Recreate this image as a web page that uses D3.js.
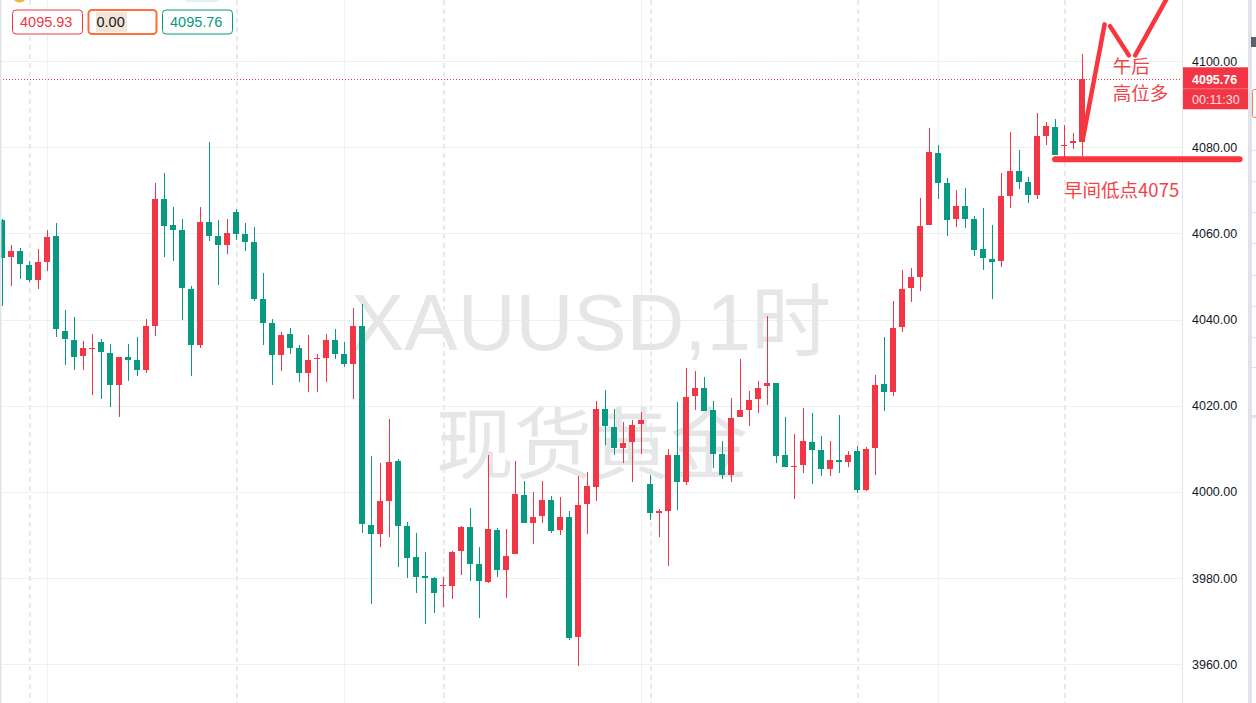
<!DOCTYPE html>
<html><head><meta charset="utf-8">
<script src="https://cdn.jsdelivr.net/npm/d3@7"></script>
<style>html,body{margin:0;padding:0;background:#fff;overflow:hidden}</style>
</head><body>
<svg id="chart" width="1256" height="703"></svg>
<script>
// ---------- data ----------
const barIndex = d3.range(121);
const openVals = [4063.0,4054.5,4056.0,4052.6,4049.1,4053.3,4059.3,4037.4,4035.3,4031.5,
4033.3,4034.9,4032.3,4024.7,4031.4,4030.5,4028.2,4038.4,4067.9,4061.9,
4060.7,4047.0,4034.0,4062.6,4059.3,4057.3,4064.9,4059.8,4058.1,4044.7,
4039.3,4031.7,4036.7,4033.3,4027.5,4030.8,4031.0,4035.3,4031.9,4029.6,
4038.6,3992.3,3990.3,3998.0,4007.2,3992.1,3984.9,3980.5,3980.1,3978.2,
3978.2,3986.3,3991.9,3983.3,3979.1,3991.2,3981.9,3985.7,3999.3,3992.9,
3994.3,3998.1,3991.2,3994.2,3966.3,3997.2,4001.2,4019.3,4015.1,4010.3,
4011.5,4015.7,4001.9,3995.0,3995.6,4008.6,4002.2,4022.2,4024.2,4019.1,
4008.8,4004.0,4017.5,4019.1,4021.5,4024.5,4025.3,4008.6,4006.0,4006.3,
4011.6,4009.8,4005.4,4007.4,4007.0,4009.5,4000.5,4010.1,4025.1,4023.3,
4038.2,4047.3,4049.8,4061.9,4078.6,4071.6,4063.3,4066.3,4063.3,4056.3,
4054.1,4053.6,4068.7,4074.4,4071.9,4068.9,4082.6,4084.7,4080.5,4081.0,
4081.1];
const highVals = [4063.3,4057.4,4056.5,4053.7,4056.3,4060.7,4062.3,4042.3,4040.5,4035.1,
4036.7,4035.6,4034.4,4031.4,4034.4,4036.0,4040.2,4071.6,4074.1,4066.2,
4063.3,4047.9,4066.2,4081.3,4063.0,4063.3,4065.6,4062.3,4061.4,4050.7,
4040.2,4037.0,4038.1,4034.2,4036.5,4031.9,4036.7,4037.9,4034.9,4042.6,
4043.5,4008.4,4006.7,4017.0,4007.7,3993.0,3990.5,3986.0,3980.3,3980.3,
3986.3,3992.1,3996.3,3987.3,4008.6,3991.6,3991.4,4007.2,4002.6,4000.0,
4002.6,3999.1,3998.8,3995.6,4003.7,4004.7,4021.2,4023.7,4019.3,4016.3,
4016.7,4018.6,4004.0,3996.0,4010.0,4020.9,4028.8,4028.1,4026.7,4021.2,
4011.9,4021.9,4030.9,4023.5,4025.8,4040.8,4025.3,4017.4,4013.5,4019.5,
4018.4,4013.0,4011.9,4017.9,4009.5,4010.7,4010.5,4027.2,4035.9,4044.4,
4051.4,4051.9,4068.1,4084.4,4080.5,4072.8,4070.0,4070.5,4064.0,4065.8,
4061.9,4074.0,4083.5,4079.3,4073.0,4087.9,4085.8,4086.5,4085.1,4083.3,
4101.6];
const lowVals = [4043.1,4047.7,4049.5,4048.7,4047.0,4051.2,4035.9,4029.4,4028.2,4028.4,
4022.4,4021.5,4019.8,4017.5,4025.7,4026.8,4027.7,4036.1,4054.5,4053.6,
4040.0,4027.0,4033.3,4058.2,4048.1,4055.3,4058.4,4055.9,4044.3,4034.0,
4024.7,4028.0,4031.9,4025.4,4023.1,4023.1,4025.4,4030.8,4028.9,4021.5,
3990.5,3974.0,3987.3,3989.6,3982.6,3980.1,3976.6,3969.4,3972.0,3973.3,
3975.2,3980.8,3979.4,3970.8,3978.9,3980.3,3975.4,3985.7,3992.9,3988.0,
3992.9,3990.5,3990.1,3965.7,3959.6,3990.3,3998.0,4010.9,4008.6,4006.8,
4002.4,4008.9,3993.6,3989.6,3982.9,3995.9,4001.5,4018.9,4018.7,4005.6,
4003.1,4002.4,4017.5,4015.2,4018.4,4020.1,4006.8,4005.9,3998.4,4004.5,
4001.9,4003.8,4003.6,4004.5,4005.9,3999.8,4000.3,4004.0,4018.7,4022.2,
4037.1,4044.0,4046.6,4061.9,4068.0,4059.4,4061.5,4061.2,4054.7,4051.5,
4044.7,4052.2,4065.9,4070.3,4067.0,4068.0,4080.5,4078.2,4076.8,4079.6,
4078.0];
const closeVals = [4054.2,4055.9,4052.8,4049.1,4053.3,4059.1,4037.7,4035.4,4031.2,4033.3,
4033.5,4032.4,4024.7,4031.4,4030.5,4028.4,4038.4,4067.9,4061.7,4060.8,
4047.3,4034.0,4062.6,4059.4,4057.3,4060.2,4059.8,4058.0,4044.7,4039.2,
4031.7,4036.5,4033.3,4027.5,4030.7,4031.0,4035.3,4031.9,4029.8,4038.6,
3992.6,3990.3,3997.9,4007.0,3992.2,3984.7,3980.3,3980.1,3976.6,3978.5,
3986.0,3991.9,3983.3,3979.4,3991.4,3981.9,3985.1,3999.5,3992.9,3994.2,
3998.1,3991.0,3994.2,3966.1,3997.0,4001.4,4019.3,4015.2,4010.1,4011.4,
4015.6,4016.7,3995.0,3995.6,4008.6,4002.2,4022.1,4024.2,4018.8,4008.9,
4004.0,4017.2,4019.1,4021.4,4024.2,4025.3,4008.4,4005.9,4006.1,4011.9,
4009.8,4005.4,4007.4,4007.0,4008.6,4000.5,4010.0,4024.9,4023.3,4038.1,
4047.2,4049.8,4061.6,4078.8,4071.7,4063.1,4066.3,4063.3,4056.1,4054.3,
4053.3,4068.6,4074.4,4071.9,4068.9,4082.6,4084.9,4078.2,4080.6,4081.5,
4095.76];
const priceTicks = [3960,3980,4000,4020,4040,4060,4080,4100];
const daySeparatorBars = [3,26,49,72,95,118];
const timeGridBars = [5,38,71,104];
const lastPrice = 4095.76;
const headerValues = ["4095.93","0.00","4095.76"];
const countdownText = "00:11:30";
const watermarkLines = ["XAUUSD,1时","现货黄金"];
// hand-drawn annotation (bar index, price)
const supportLine = [[116.9,4077.2],[137.4,4077.2]];
const zigzagStrokes = [
  [[120,4082.1],[122.4,4108.5]],
  [[123.0,4108.1],[125.1,4101.3]],
  [[125.8,4101.3],[129.9,4116.7]]
];
const noteTexts = ["午后","高位多","早间低点4075"];
const notePos = [[123.3,4097.3],[123.3,4091.0],[117.9,4068.5]];

// ---------- layout ----------
const W = 1256, H = 703, plotRight = 1182;
const RED = "#f23645", GREEN = "#089981";
const svg = d3.select("#chart");
const x = d3.scaleLinear().domain([0,120]).range([3,1083]);
const y = d3.scaleLinear().domain([3960,4100]).range([664.3,61]);
const bars = barIndex.map(i => ({i, o:openVals[i], h:highVals[i], l:lowVals[i], c:closeVals[i]}));

svg.append("rect").attr("width",W).attr("height",H).attr("fill","#fff");

// grid
const grid = svg.append("g");
grid.selectAll("line.h").data(priceTicks).join("line")
  .attr("x1",0).attr("x2",plotRight)
  .attr("y1",d=>Math.round(y(d))+0.5).attr("y2",d=>Math.round(y(d))+0.5)
  .attr("stroke","#f0f0f3").attr("stroke-width",1);
grid.selectAll("line.v").data(timeGridBars).join("line")
  .attr("x1",d=>Math.round(x(d))-0.5).attr("x2",d=>Math.round(x(d))-0.5)
  .attr("y1",0).attr("y2",H).attr("stroke","#f0f0f3").attr("stroke-width",1);
grid.selectAll("line.d").data(daySeparatorBars).join("line")
  .attr("x1",d=>Math.round(x(d))).attr("x2",d=>Math.round(x(d)))
  .attr("y1",0).attr("y2",H).attr("stroke","#e8e8ee").attr("stroke-width",2)
  .attr("stroke-dasharray","5,4");

// watermark
const wm = svg.append("g").attr("fill","#e6e6e9").attr("text-anchor","middle");
wm.append("text").attr("x",plotRight/2).attr("y",349.5)
  .attr("font-family","'Liberation Sans','Noto Sans CJK SC',sans-serif").attr("font-size",80)
  .text(watermarkLines[0]);
wm.append("text").attr("x",plotRight/2+1).attr("y",473)
  .attr("font-family","'Noto Sans CJK SC',sans-serif").attr("font-size",78)
  .text(watermarkLines[1]);

// last price dotted line
svg.append("line").attr("x1",0).attr("x2",plotRight)
  .attr("y1",Math.round(y(lastPrice))+0.5).attr("y2",Math.round(y(lastPrice))+0.5)
  .attr("stroke",RED).attr("stroke-width",1).attr("stroke-dasharray","1,2");

// candles
const cg = svg.append("g");
const col = d => d.c >= d.o ? RED : GREEN;
cg.selectAll("rect.w").data(bars).join("rect")
  .attr("x",d=>Math.round(x(d.i))-1).attr("width",1)
  .attr("y",d=>Math.round(y(d.h))).attr("height",d=>Math.max(1,Math.round(y(d.l))-Math.round(y(d.h))))
  .attr("fill",col);
cg.selectAll("rect.b").data(bars).join("rect")
  .attr("x",d=>Math.round(x(d.i))-4).attr("width",6)
  .attr("y",d=>Math.round(y(Math.max(d.o,d.c))))
  .attr("height",d=>Math.max(1,Math.round(y(Math.min(d.o,d.c)))-Math.round(y(Math.max(d.o,d.c)))))
  .attr("fill",col);

// price axis panel
const ax = svg.append("g");
ax.append("rect").attr("x",plotRight).attr("y",0).attr("width",W-plotRight).attr("height",H).attr("fill","#fff");
ax.append("line").attr("x1",plotRight+0.5).attr("x2",plotRight+0.5).attr("y1",0).attr("y2",H)
  .attr("stroke","#e0e3eb");
ax.selectAll("text").data(priceTicks).join("text")
  .attr("x",1192).attr("y",d=>y(d)+4.5)
  .attr("font-family","'Liberation Sans',Arial,sans-serif").attr("font-size",12.5)
  .attr("fill","#131722").text(d=>d.toFixed(2));
// neighbouring panel strip
ax.append("rect").attr("x",1248).attr("y",0).attr("width",4).attr("height",H).attr("fill","#e0e3eb");
[150,181,212,243,275,306,337,367].forEach(v=>{
  ax.append("line").attr("x1",1252).attr("x2",W).attr("y1",v+0.5).attr("y2",v+0.5).attr("stroke","#e0e3eb");
});
ax.append("rect").attr("x",1252).attr("y",415).attr("width",4).attr("height",3).attr("fill","#e0e3eb");
ax.append("rect").attr("x",1251).attr("y",37).attr("width",5).attr("height",10).attr("fill","#5d606b");
ax.append("rect").attr("x",1252.5).attr("y",89.5).attr("width",8).attr("height",28).attr("rx",2)
  .attr("fill","none").attr("stroke","#ff7a45");

// last price label
const ly = y(lastPrice);
ax.append("rect").attr("x",plotRight+1).attr("y",ly-12).attr("width",65).attr("height",42).attr("fill",RED);
ax.append("line").attr("x1",plotRight+1).attr("x2",plotRight+66).attr("y1",ly+9.5).attr("y2",ly+9.5)
  .attr("stroke","#f7737e").attr("stroke-width",1);
ax.append("text").attr("x",1192).attr("y",ly+4.5).attr("font-family","'Liberation Sans',Arial,sans-serif")
  .attr("font-size",12.5).attr("font-weight","bold").attr("fill","#fff").text(lastPrice.toFixed(2));
ax.append("text").attr("x",1192).attr("y",ly+24.5).attr("font-family","'Liberation Sans',Arial,sans-serif")
  .attr("font-size",12.5).attr("fill","#fde0e2").text(countdownText);

// left border and top decorations
svg.append("rect").attr("x",0).attr("y",0).attr("width",1.5).attr("height",H).attr("fill","#e0e3eb");
svg.append("circle").attr("cx",19.5).attr("cy",-5).attr("r",7.5).attr("fill","#f5b730");
svg.append("rect").attr("x",183).attr("y",-10).attr("width",38).attr("height",12).attr("rx",6).attr("fill","#dff3ef");

// header boxes
const hb = svg.append("g").attr("font-family","'Liberation Sans',Arial,sans-serif").attr("font-size",14.5);
const boxes = [
  {x:12.5,w:70,stroke:RED,sw:1,color:RED},
  {x:88.5,w:68,stroke:"#ff6d3a",sw:2,color:"#131722"},
  {x:162.5,w:70,stroke:GREEN,sw:1,color:GREEN}
];
boxes.forEach((b,k)=>{
  hb.append("rect").attr("x",b.x).attr("y",10).attr("width",b.w).attr("height",24).attr("rx",3.5)
    .attr("fill","#fff").attr("stroke",b.stroke).attr("stroke-width",b.sw);
  if(k===1){
    hb.append("rect").attr("x",96).attr("y",12).attr("width",31).attr("height",20).attr("fill","#f1e4d8");
  }
  hb.append("text").attr("x",b.x+(k===1?8:7.5)).attr("y",27).attr("fill",b.color).text(headerValues[k]);
});

// annotations
const an = svg.append("g");
const lineGen = d3.line().x(d=>x(d[0])).y(d=>y(d[1]));
an.append("path").attr("d",lineGen(supportLine)).attr("stroke","#f7363d").attr("stroke-width",6)
  .attr("stroke-linecap","round").attr("fill","none");
zigzagStrokes.forEach(s=>{
  an.append("path").attr("d",lineGen(s)).attr("stroke","#f7363d").attr("stroke-width",4.5)
    .attr("stroke-linecap","round").attr("fill","none");
});
an.selectAll("text").data(noteTexts).join("text")
  .attr("x",(d,k)=>x(notePos[k][0])).attr("y",(d,k)=>y(notePos[k][1]))
  .attr("font-family","'Noto Sans CJK SC',sans-serif").attr("font-size",18.5)
  .attr("fill","#f2434a").text(d=>d);
</script>
</body></html>
